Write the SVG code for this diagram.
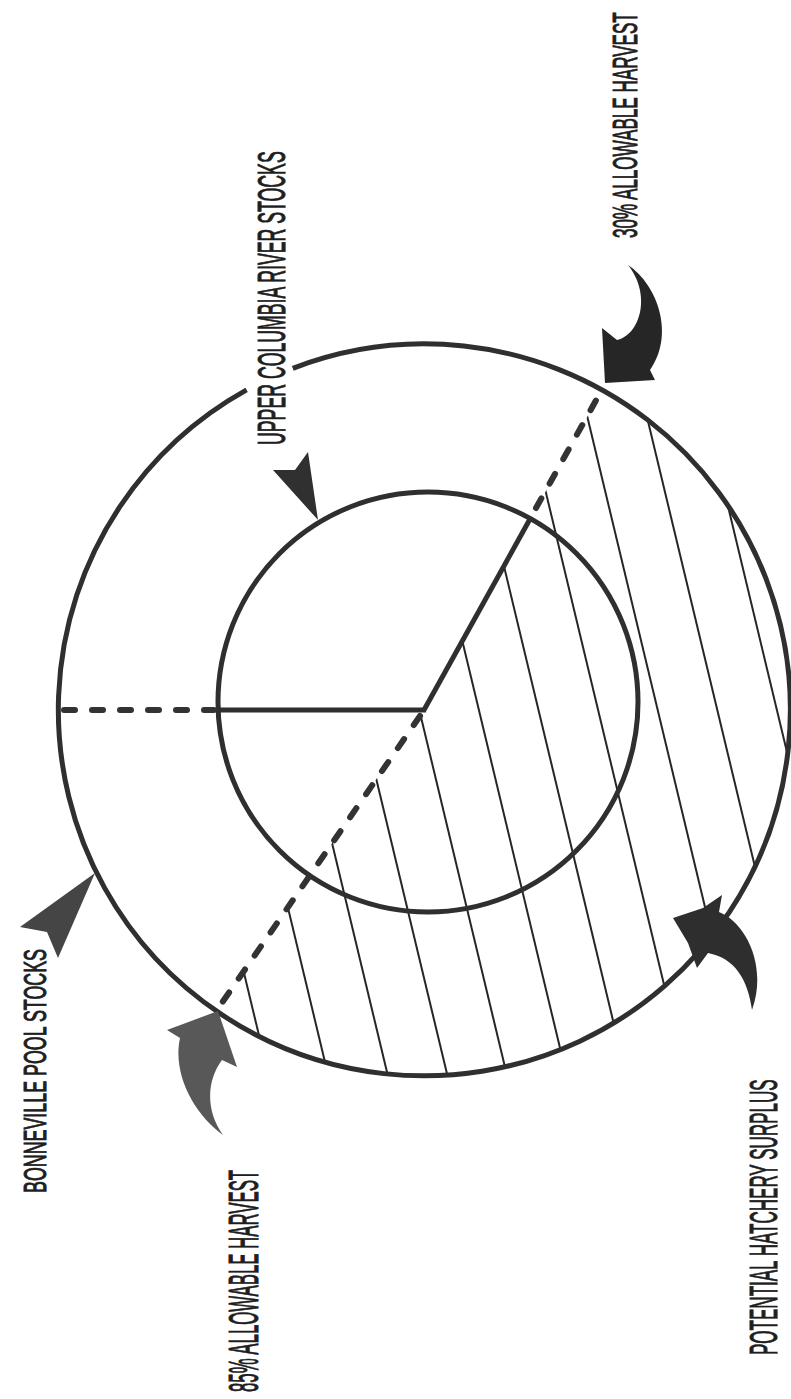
<svg xmlns="http://www.w3.org/2000/svg" width="791" height="1399" viewBox="0 0 791 1399">
<style>
.ring{fill:none;stroke:#2f2f2f;stroke-width:5}
.hatch{stroke:#262626;stroke-width:2;fill:none}
.rad{stroke:#2f2f2f;stroke-width:5;fill:none}
.dash{stroke:#333;stroke-width:6;fill:none;stroke-linecap:round;stroke-dasharray:11 17}
.lbl{font-family:"Liberation Sans","DejaVu Sans",sans-serif;fill:#1e1e1e;stroke:#1e1e1e;stroke-width:1}
</style>
<defs>
<clipPath id="sector"><path d="M424,710 L602,390.2 A366,366 0 1,1 216.1,1011.2 Z"/></clipPath>
</defs>
<rect width="791" height="1399" fill="#ffffff"/>
<g id="hatching" clip-path="url(#sector)">
<line class="hatch" x1="82.5" y1="300" x2="279.3" y2="1120"/>
<line class="hatch" x1="142.1" y1="300" x2="338.9" y2="1120"/>
<line class="hatch" x1="201.7" y1="300" x2="398.5" y2="1120"/>
<line class="hatch" x1="261.3" y1="300" x2="458.1" y2="1120"/>
<line class="hatch" x1="320.9" y1="300" x2="517.7" y2="1120"/>
<line class="hatch" x1="380.5" y1="300" x2="577.3" y2="1120"/>
<line class="hatch" x1="440.1" y1="300" x2="636.9" y2="1120"/>
<line class="hatch" x1="499.7" y1="300" x2="696.5" y2="1120"/>
<line class="hatch" x1="559.3" y1="300" x2="756.1" y2="1120"/>
<line class="hatch" x1="618.9" y1="300" x2="815.7" y2="1120"/>
<line class="hatch" x1="678.5" y1="300" x2="875.3" y2="1120"/>
</g>
<g id="inner-circle">
<circle class="ring" cx="428" cy="702" r="210" fill="#ffffff"/>
</g>
<g id="outer-circle">
<path class="ring" d="M292.8,368.3 A366,366 0 1,1 246.6,389.9"/>
</g>
<g id="radii">
<line class="rad" x1="218" y1="710" x2="426" y2="710"/>
<line class="dash" x1="64" y1="710" x2="214" y2="710"/>
<line class="rad" x1="424" y1="710" x2="530" y2="519"/>
<line class="dash" x1="536" y1="508" x2="604" y2="386"/>
<line class="dash" x1="420" y1="716" x2="217" y2="1010"/>
</g>
<g id="connectors">
<path id="arrow-30" fill="#262626" d="M628,265 C658,285 675,335 650,370 L655,380 L605,383 L602,328 L617,340 C640,335 652,295 628,265 Z"/>
<path id="arrow-upper" fill="#303030" d="M318,520 L273,470 L295,470 L308,452 Z"/>
<path id="arrow-bonneville" fill="#454545" d="M95,873 L58,958 L47,932 L20,927 Z"/>
<path id="arrow-85" fill="#585858" d="M167,1030 L218,1011 L237,1067 L222,1060 C207,1080 205,1110 223,1135 C195,1115 172,1075 180,1038 Z"/>
<path id="arrow-surplus" fill="#2e2e2e" d="M673,918 L703,908 L722,895 L719,912 C745,922 768,965 752,1010 C748,980 735,958 708,953 L697,968 L688,943 Z"/>
</g>
<g id="label-30">
<text class="lbl" font-size="35" transform="translate(637,238) rotate(-90) scale(0.488,1)">30% ALLOWABLE HARVEST</text>
</g>
<g id="label-upper">
<text class="lbl" font-size="38" transform="translate(285,445) rotate(-90) scale(0.466,1)">UPPER COLUMBIA RIVER STOCKS</text>
</g>
<g id="label-bonneville">
<text class="lbl" font-size="31" transform="translate(46,1193) rotate(-90) scale(0.576,1)">BONNEVILLE POOL STOCKS</text>
</g>
<g id="label-85">
<text class="lbl" font-size="42" transform="translate(258,1392) rotate(-90) scale(0.4,1)">85% ALLOWABLE HARVEST</text>
</g>
<g id="label-surplus">
<text class="lbl" font-size="38" transform="translate(777,1355) rotate(-90) scale(0.448,1)">POTENTIAL HATCHERY SURPLUS</text>
</g>
</svg>
